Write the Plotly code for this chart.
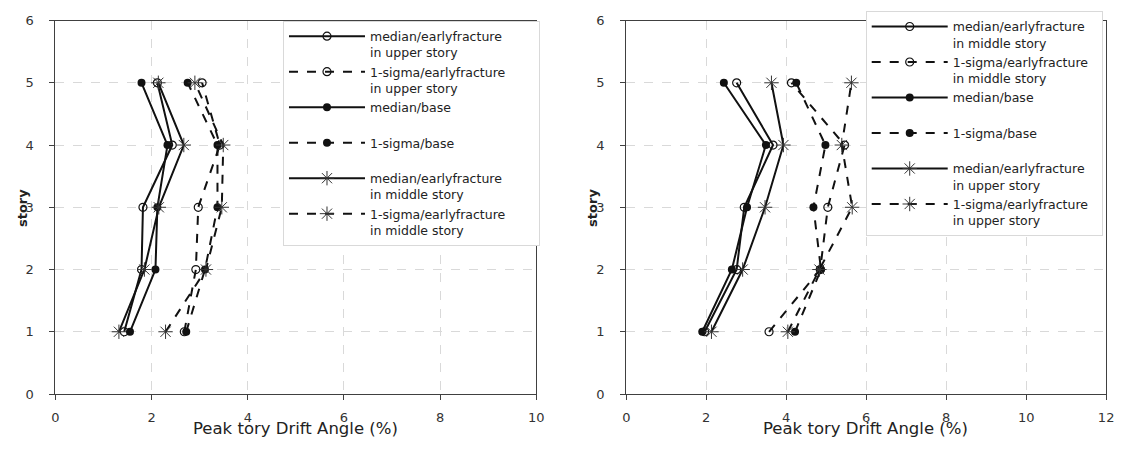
import plotly.graph_objects as go

stories = [1, 2, 3, 4, 5]

# Left chart
L_med_upper = [1.43, 1.79, 1.82, 2.43, 2.12]
L_sig_upper = [2.68, 2.92, 2.97, 3.42, 3.05]
L_med_base = [1.55, 2.08, 2.12, 2.33, 1.79]
L_sig_base = [2.72, 3.11, 3.37, 3.37, 2.75]
L_med_middle = [1.32, 1.85, 2.15, 2.67, 2.14]
L_sig_middle = [2.29, 3.13, 3.46, 3.49, 2.90]

# Right chart
R_med_middle = [1.96, 2.76, 2.95, 3.67, 2.76]
R_sig_middle = [3.57, 4.85, 5.04, 5.46, 4.13]
R_med_base = [1.90, 2.64, 3.02, 3.49, 2.44]
R_sig_base = [4.22, 4.87, 4.68, 4.98, 4.25]
R_med_upper = [2.13, 2.91, 3.47, 3.93, 3.63]
R_sig_upper = [4.04, 4.83, 5.65, 5.39, 5.63]

x_title = "Peak tory Drift Angle (%)"
y_title = "story"

FONT = "DejaVu Sans"
BLACK = "#111111"
NB = "\u00a0"

def trace(x, name, dash, symbol, xa, ya, legend):
    if symbol == "asterisk-open":
        marker = dict(symbol=symbol, size=12, color="#333333", line=dict(width=1, color="#333333"))
    elif symbol == "circle-open":
        marker = dict(symbol=symbol, size=8, color=BLACK, line=dict(width=1.2, color=BLACK))
    else:
        marker = dict(symbol=symbol, size=8, color=BLACK)
    return go.Scatter(x=x, y=stories, mode="lines+markers", name=name,
                      line=dict(color=BLACK, width=2, dash=dash),
                      marker=marker, xaxis=xa, yaxis=ya, legend=legend)

padL = NB * 7
padR = NB * 2
fig = go.Figure()
left = [
    (L_med_upper, "median/earlyfracture<br>in upper story", "solid", "circle-open"),
    (L_sig_upper, "1-sigma/earlyfracture" + padL + "<br>in upper story", "dash", "circle-open"),
    (L_med_base, "median/base<br> ", "solid", "circle"),
    (L_sig_base, "1-sigma/base<br> ", "dash", "circle"),
    (L_med_middle, "median/earlyfracture<br>in middle story", "solid", "asterisk-open"),
    (L_sig_middle, "1-sigma/earlyfracture" + padL + "<br>in middle story", "dash", "asterisk-open"),
]
right = [
    (R_med_middle, "median/earlyfracture<br>in middle story", "solid", "circle-open"),
    (R_sig_middle, "1-sigma/earlyfracture" + padR + "<br>in middle story", "dash", "circle-open"),
    (R_med_base, "median/base<br> ", "solid", "circle"),
    (R_sig_base, "1-sigma/base<br> ", "dash", "circle"),
    (R_med_upper, "median/earlyfracture<br>in upper story", "solid", "asterisk-open"),
    (R_sig_upper, "1-sigma/earlyfracture" + padR + "<br>in upper story", "dash", "asterisk-open"),
]
for x, n, d, s in left:
    fig.add_trace(trace(x, n, d, s, "x", "y", "legend"))
for x, n, d, s in right:
    fig.add_trace(trace(x, n, d, s, "x2", "y2", "legend2"))

W, H = 1125, 462
def px(v): return v / W
def py(v): return 1 - v / H

axis_common = dict(showgrid=True, gridcolor="#d9d9d9", griddash="dash", gridwidth=1,
                   zeroline=False, showline=True, mirror=True, linecolor="#404040", linewidth=1.2,
                   ticks="outside", ticklen=5, tickcolor="#404040",
                   tickfont=dict(family=FONT, size=13, color="#333333"))

ydom = [py(400), py(14)]
legend_common = dict(xanchor="left", yanchor="top",
                     bgcolor="white", bordercolor="#d9d9d9", borderwidth=1,
                     font=dict(family=FONT, size=12.5, color="#222222"),
                     valign="top", itemwidth=76, tracegroupgap=0)
fig.update_layout(
    width=W, height=H, margin=dict(l=0, r=0, t=0, b=0),
    paper_bgcolor="white", plot_bgcolor="white",
    font=dict(family=FONT, size=13, color="#222222"),
    xaxis=dict(domain=[px(52), px(538)], range=[0, 10], dtick=2, anchor="y",
               ticklabelstandoff=6, **axis_common),
    yaxis=dict(domain=ydom, range=[0, 6], dtick=1, anchor="x",
               ticklabelstandoff=13, **axis_common),
    xaxis2=dict(domain=[px(629), px(1114)], range=[0, 12], dtick=2, anchor="y2",
                ticklabelstandoff=6, **axis_common),
    yaxis2=dict(domain=ydom, range=[0, 6], dtick=1, anchor="x2",
                ticklabelstandoff=13, **axis_common),
    legend=dict(x=px(282), y=py(14), **legend_common),
    legend2=dict(x=px(871), y=py(4), **legend_common),
    showlegend=True,
)

for cx in (295, 871):
    fig.add_annotation(x=px(cx), y=py(436), xref="paper", yref="paper", text=x_title,
                       showarrow=False, xanchor="center", yanchor="middle",
                       font=dict(family=FONT, size=16.5, color="#222222"))
for cx in (18, 595):
    fig.add_annotation(x=px(cx), y=py(208), xref="paper", yref="paper", text="<b>" + y_title + "</b>",
                       showarrow=False, textangle=-90, xanchor="center", yanchor="middle",
                       font=dict(family=FONT, size=13, color="#222222"))

fig.write_html("out.html")
